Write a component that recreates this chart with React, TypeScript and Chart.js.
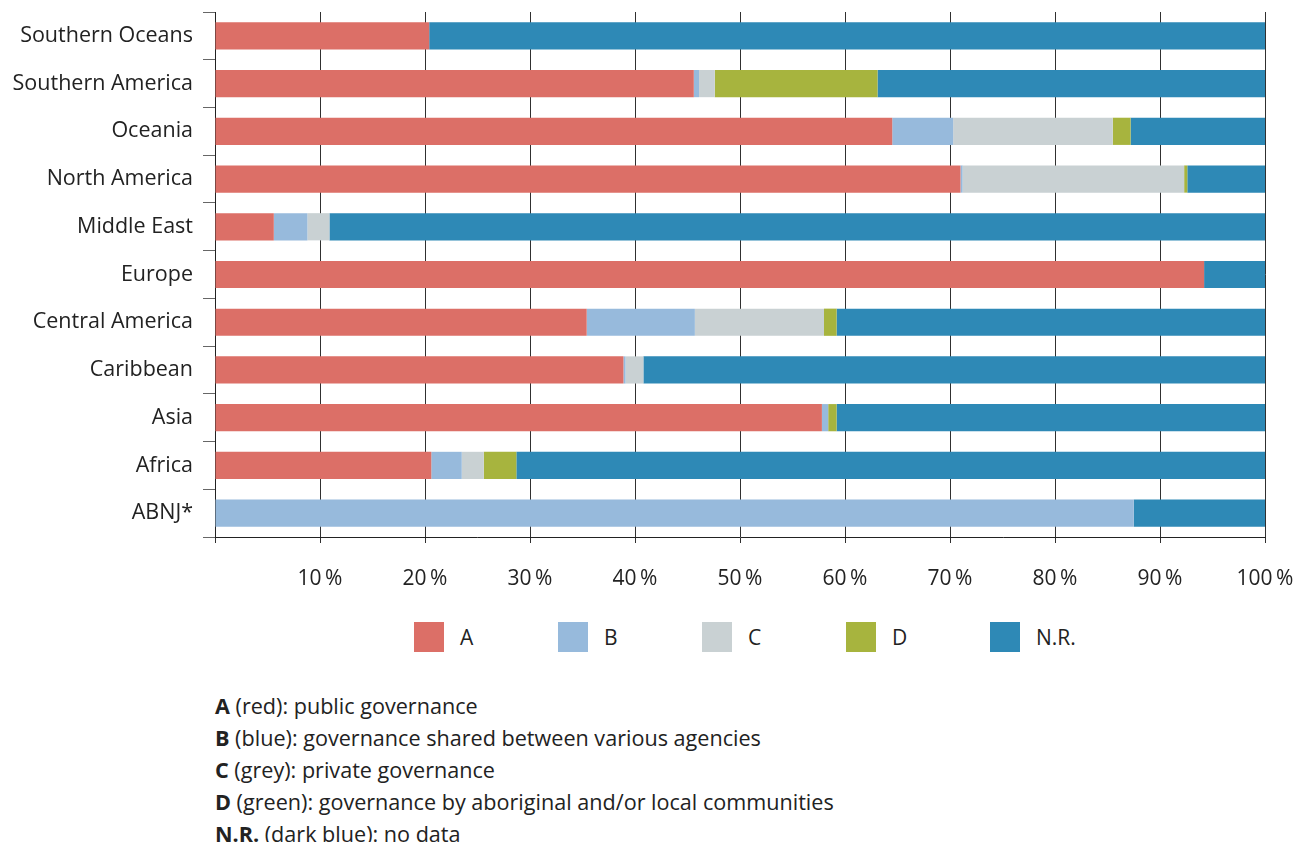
import React, { useEffect, useRef } from "react";
import { Chart, registerables } from "chart.js";

Chart.register(...registerables);

const categories = [
  "Southern Oceans",
  "Southern America",
  "Oceania",
  "North America",
  "Middle East",
  "Europe",
  "Central America",
  "Caribbean",
  "Asia",
  "Africa",
  "ABNJ*",
];
const seriesA = [20.4, 45.6, 64.5, 71.0, 5.6, 94.2, 35.4, 38.9, 57.8, 20.6, 0];
const seriesB = [0, 0.5, 5.8, 0.2, 3.2, 0, 10.3, 0.2, 0.6, 2.9, 87.5];
const seriesC = [0, 1.5, 15.2, 21.1, 2.1, 0, 12.3, 1.7, 0, 2.1, 0];
const seriesD = [0, 15.5, 1.7, 0.3, 0, 0, 1.2, 0, 0.8, 3.1, 0];
const seriesNR = [79.6, 36.9, 12.8, 7.4, 89.1, 5.8, 40.8, 59.2, 40.8, 71.3, 12.5];

const seriesNames = ["A", "B", "C", "D", "N.R."];
const seriesColors = ["#DC6F67", "#97BADC", "#C9D1D3", "#A7B43E", "#2E89B6"];
const seriesValues = [seriesA, seriesB, seriesC, seriesD, seriesNR];

const notes: [string, string][] = [
  ["A", " (red): public governance"],
  ["B", " (blue): governance shared between various agencies"],
  ["C", " (grey): private governance"],
  ["D", " (green): governance by aboriginal and/or local communities"],
  ["N.R.", " (dark blue): no data"],
];

const FONT = "'Open Sans', Roboto, sans-serif";

export default function App() {
  const canvasRef = useRef<HTMLCanvasElement | null>(null);

  useEffect(() => {
    if (!canvasRef.current) return;
    const chart = new Chart(canvasRef.current, {
      type: "bar",
      data: {
        labels: categories,
        datasets: seriesNames.map((name, i) => ({
          label: name,
          data: seriesValues[i],
          backgroundColor: seriesColors[i],
          borderWidth: 0,
          categoryPercentage: 1,
          barPercentage: 0.57,
        })),
      },
      options: {
        indexAxis: "y",
        animation: false,
        responsive: false,
        maintainAspectRatio: false,
        layout: { padding: { top: 4, right: 35, bottom: 0, left: 0 } },
        plugins: {
          legend: { display: false },
          tooltip: { enabled: false },
        },
        scales: {
          x: {
            stacked: true,
            min: 0,
            max: 100,
            z: 1,
            afterFit: (s: any) => {
              s.height = 60;
              s.paddingLeft = 0;
              s.paddingRight = 0;
            },
            grid: {
              color: "rgba(25,25,25,0.9)",
              lineWidth: 1,
              tickLength: 6,
            },
            border: { color: "#222", width: 1 },
            ticks: {
              stepSize: 10,
              padding: 23,
              color: "#222",
              font: { family: FONT, size: 21 },
              callback: (v: any) => (Number(v) === 0 ? "" : `${v}\u2009%`),
              maxRotation: 0,
            },
          },
          y: {
            stacked: true,
            afterFit: (s: any) => {
              s.width = 207;
              s.paddingTop = 0;
              s.paddingBottom = 0;
            },
            grid: {
              drawOnChartArea: false,
              color: "#666",
              tickLength: 12,
              offset: true,
            },
            border: { color: "#222", width: 1 },
            ticks: {
              padding: 10,
              color: "#222",
              font: { family: FONT, size: 21.5 },
            },
          },
        },
      },
    });
    return () => chart.destroy();
  }, []);

  return (
    <div style={{ position: "relative", width: 1292, height: 834, fontFamily: FONT, color: "#222" }}>
      <canvas
        ref={canvasRef}
        width={1292}
        height={589}
        style={{ position: "absolute", left: 0, top: 0, width: 1292, height: 589 }}
      />
      <div style={{ position: "absolute", top: 614, left: 406, display: "flex" }}>
        {seriesNames.map((name, i) => (
          <div key={name} style={{ width: 144, display: "flex", alignItems: "center" }}>
            <div style={{ width: 30, height: 30, background: seriesColors[i] }} />
            <span style={{ marginLeft: 16, fontSize: 21 }}>{name}</span>
          </div>
        ))}
      </div>
      <div style={{ position: "absolute", top: 682, left: 207, fontSize: 21.6, lineHeight: "32px" }}>
        {notes.map(([b, t]) => (
          <div key={b} style={{ whiteSpace: "nowrap" }}>
            <b>{b}</b>
            {t}
          </div>
        ))}
      </div>
    </div>
  );
}
